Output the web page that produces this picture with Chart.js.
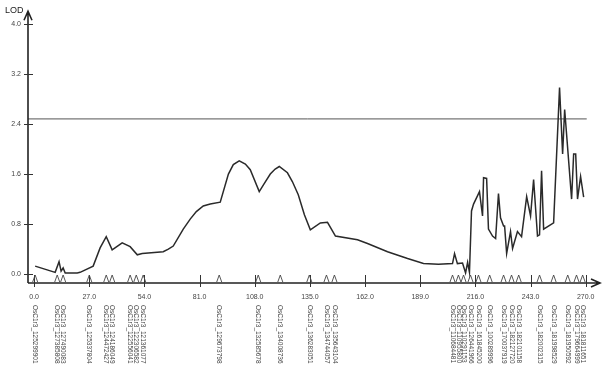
<!DOCTYPE html>
<html>
<head>
<meta charset="utf-8">
<script src="https://cdn.jsdelivr.net/npm/chart.js@4/dist/chart.umd.min.js"></script>
<style>
  html, body { margin: 0; padding: 0; background: #fff; }
  #wrap { width: 605px; height: 366px; }
</style>
</head>
<body>
<div id="wrap"><canvas id="lodChart"></canvas></div>
<script>
// LOD profile, position in cM
const lodPos = [0.5, 10.3, 12.2, 13.2, 14.2, 15.2, 21.1, 22.5, 28.9, 32.3, 35.3, 38.2, 43.1, 47.0, 50.5, 52.9,
  63.2, 65.7, 68.1, 73.0, 76.4, 79.4, 82.8, 86.2, 91.1, 95.1, 97.5, 100.4, 103.4, 105.8, 110.2, 112.7, 115.6,
  118.0, 120.0, 124.0, 126.4, 129.3, 132.3, 135.2, 140.1, 143.6, 147.5, 158.3, 163.2, 173.0, 182.8, 190.6,
  197.9, 204.8, 205.8, 207.2, 209.7, 211.2, 212.2, 213.1, 214.1, 215.1, 218.0, 219.5, 220.0, 221.5, 222.4,
  224.4, 225.9, 227.3, 228.3, 229.8, 230.3, 231.3, 233.2, 234.2, 236.6, 238.6, 241.1, 243.0, 244.5, 246.4,
  247.4, 248.4, 249.4, 254.3, 257.2, 258.7, 259.7, 261.2, 263.1, 264.1, 265.1, 266.0, 267.5, 269.0]
const lodVal = [0.13, 0.03, 0.2, 0.05, 0.1, 0.02, 0.02, 0.03, 0.13, 0.42, 0.6, 0.39, 0.5, 0.44, 0.31, 0.33,
  0.36, 0.4, 0.45, 0.72, 0.88, 1.0, 1.09, 1.12, 1.15, 1.6, 1.75, 1.81, 1.76, 1.67, 1.32, 1.45, 1.6,
  1.68, 1.72, 1.62, 1.48, 1.27, 0.95, 0.71, 0.82, 0.83, 0.61, 0.55, 0.49, 0.36, 0.25, 0.17,
  0.16, 0.17, 0.33, 0.17, 0.18, 0.02, 0.19, 0.03, 1.01, 1.12, 1.32, 0.93, 1.54, 1.53, 0.72,
  0.61, 0.57, 1.29, 0.9, 0.77, 0.77, 0.33, 0.68, 0.41, 0.68, 0.6, 1.24, 0.93, 1.51, 0.61,
  0.63, 1.65, 0.72, 0.82, 2.98, 1.92, 2.63, 2.0, 1.2, 1.92, 1.92, 1.2, 1.56, 1.23]

// significance threshold
const threshold = 2.48

// markers on the linkage map
const markerPos = [0.5, 11.3, 14.2, 27.0, 35.3, 38.2, 47.0, 50.0, 53.4, 90.6, 109.7, 120.5, 134.7, 143.1, 147.0,
  204.8, 207.7, 210.2, 213.6, 217.5, 223.0, 229.8, 233.7, 237.2, 247.4, 254.3, 261.2, 265.5, 268.5]
const markerNames = ['OsC1r3_125299901', 'OsC1r3_127385808', 'OsC1r3_127490083', 'OsC1r3_125337804',
  'OsC1r3_124472427', 'OsC1r3_124186049', 'OsC1r3_122556041', 'OsC1r3_122306582', 'OsC1r3_121361077',
  'OsC1r3_129673798', 'OsC1r3_132585678', 'OsC1r3_134008736', 'OsC1r3_136283051', 'OsC1r3_134744057',
  'OsC1r3_135643104', 'OsC1r3_110684481', 'OsC1r3_110955800', 'OsC1r3_110291153', 'OsC1r3_126441966',
  'OsC1r3_161845200', 'OsC1r3_100289996', 'OsC1r3_170037919', 'OsC1r3_182127720', 'OsC1r3_182101158',
  'OsC1r3_182002315', 'OsC1r3_181998529', 'OsC1r3_181950592', 'OsC1r3_179664999', 'OsC1r3_181811651']

// tick labels
const xTicks = [0, 27, 54, 81, 108, 135, 162, 189, 216, 243, 270]
const yTicks = [0, 0.8, 1.6, 2.4, 3.2, 4.0]

const font = "'Liberation Sans', Arial, sans-serif"

//axes, arrows, markers and names drawn on top of the scales
const axisPlugin = {
  id: 'axisPlugin',
  afterDraw(chart) {
    const ctx = chart.ctx
    const xs = chart.scales.x, ys = chart.scales.y
    const a = chart.chartArea
    ctx.save()
    ctx.strokeStyle = '#222'
    ctx.lineWidth = 1.6
    // y axis with arrow
    ctx.beginPath()
    ctx.moveTo(a.left, a.bottom)
    ctx.lineTo(a.left, a.top)
    ctx.moveTo(a.left - 4, a.top + 9)
    ctx.lineTo(a.left, a.top)
    ctx.lineTo(a.left + 4, a.top + 9)
    // x axis with arrow
    ctx.moveTo(a.left, a.bottom)
    ctx.lineTo(a.right, a.bottom)
    ctx.moveTo(a.right - 9, a.bottom - 4)
    ctx.lineTo(a.right, a.bottom)
    ctx.lineTo(a.right - 9, a.bottom + 4)
    ctx.stroke()

    ctx.lineWidth = 1
    ctx.strokeStyle = '#333'
    ctx.beginPath()
    yTicks.forEach((v) => {
      const py = Math.round(ys.getPixelForValue(v)) + 0.5
      ctx.moveTo(a.left - 4, py)
      ctx.lineTo(a.left + 5, py)
    })
    xTicks.forEach((v) => {
      const px = Math.round(xs.getPixelForValue(v)) + 0.5
      ctx.moveTo(px, a.bottom - 8)
      ctx.lineTo(px, a.bottom + 4)
    })
    ctx.stroke()

    // marker triangles
    ctx.strokeStyle = '#444'
    ctx.lineWidth = 0.9
    ctx.beginPath()
    markerPos.forEach((p) => {
      const px = xs.getPixelForValue(p)
      ctx.moveTo(px - 2.5, a.bottom - 1)
      ctx.lineTo(px, a.bottom - 8)
      ctx.lineTo(px + 2.5, a.bottom - 1)
    })
    ctx.stroke()

    // marker names, rotated
    ctx.fillStyle = '#444'
    ctx.font = '6.5px ' + font
    ctx.textAlign = 'left'
    ctx.textBaseline = 'middle'
    markerPos.forEach((p, i) => {
      const px = xs.getPixelForValue(p)
      ctx.save()
      ctx.translate(px, 305)
      ctx.rotate(Math.PI / 2)
      ctx.fillText(markerNames[i], 0, 0)
      ctx.restore()
    })

    // axis title
    ctx.fillStyle = '#222'
    ctx.font = '9px ' + font
    ctx.textAlign = 'left'
    ctx.fillText('LOD', 5, 11)
    ctx.restore()
  }
}

let lodChart = document.getElementById('lodChart').getContext('2d')

let config = {
  type: 'line',
  data: {
    datasets: [
      {
        data: lodPos.map((p, i) => ({ x: p, y: lodVal[i] })),
        borderColor: '#2a2a2a',
        borderWidth: 1.5,
        pointRadius: 0,
        tension: 0
      },
      {
        data: [{ x: -3, y: threshold }, { x: 270.5, y: threshold }],
        borderColor: '#555',
        borderWidth: 1,
        pointRadius: 0
      }
    ]
  },
  options: {
    responsive: true,
    maintainAspectRatio: false,
    animation: false,
    layout: { padding: { top: 8, right: 5, left: 0, bottom: 0 } },
    plugins: { legend: { display: false }, tooltip: { enabled: false } },
    scales: {
      x: {
        type: 'linear',
        min: -3,
        max: 277,
        border: { display: false },
        grid: { display: false, drawTicks: false },
        afterBuildTicks: (s) => { s.ticks = xTicks.map((v) => ({ value: v })) },
        afterFit: (s) => { s.height = 83 },
        ticks: {
          autoSkip: false,
          maxRotation: 0,
          padding: 10,
          color: '#444',
          font: { family: font, size: 7 },
          callback: (v) => Number(v).toFixed(1)
        }
      },
      y: {
        min: -0.14,
        max: 4.2,
        border: { display: false },
        grid: { display: false, drawTicks: false },
        afterBuildTicks: (s) => { s.ticks = yTicks.map((v) => ({ value: v })) },
        afterFit: (s) => { s.width = 28 },
        ticks: {
          padding: 7,
          color: '#444',
          font: { family: font, size: 7 },
          callback: (v) => Number(v).toFixed(1)
        }
      }
    }
  },
  plugins: [axisPlugin]
}

let chart = new Chart(lodChart, config)
</script>
</body>
</html>
